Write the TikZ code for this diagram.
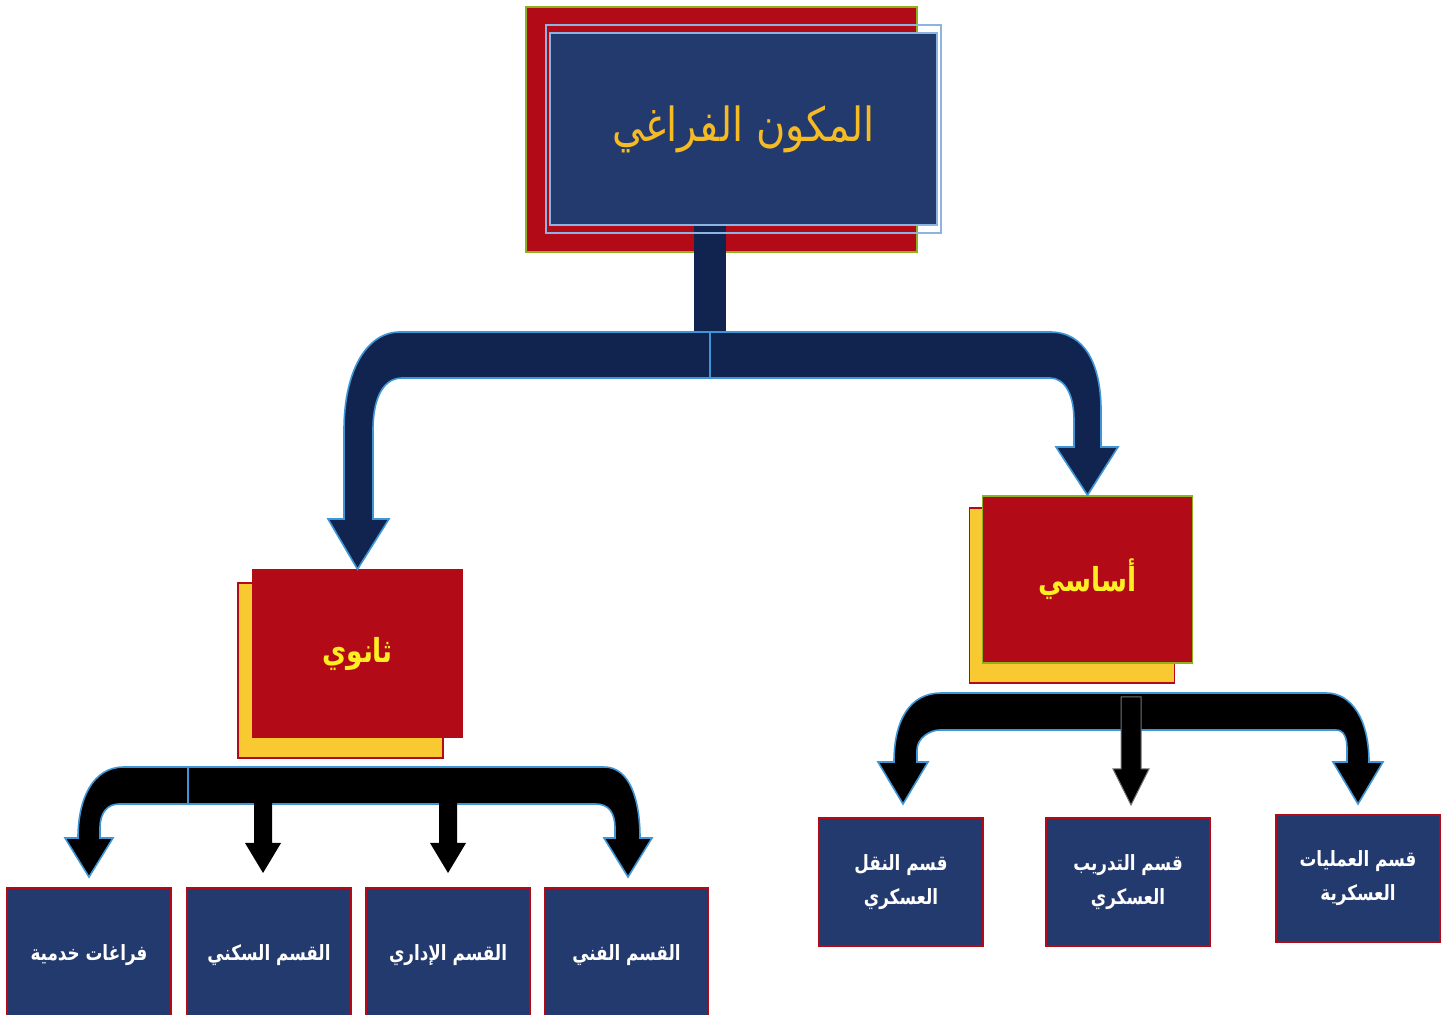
\documentclass[tikz,border=0pt]{standalone}
\usepackage{fontspec}
\newfontfamily\arabicfont[Script=Arabic, FakeStretch=0.8]{DejaVu Sans}
\newfontfamily\titlefont[Script=Arabic, FakeStretch=0.85]{DejaVu Sans}
\TeXXeTstate=1
\definecolor{boxred}{HTML}{B30A18}
\definecolor{boxnavy}{HTML}{233A6E}
\definecolor{arrownavy}{HTML}{10244F}
\definecolor{shadowyellow}{HTML}{F9C932}
\definecolor{titlegold}{HTML}{F6BA22}
\definecolor{labelyellow}{HTML}{FFEE22}
\definecolor{edgegreen}{HTML}{8CB21E}
\definecolor{edgeblue}{HTML}{8DB3E2}
\definecolor{arrowedge}{HTML}{3E96D6}
\begin{document}
\begin{tikzpicture}[x=0.5pt,y=-0.5pt,
    tile/.style={rectangle, inner sep=0pt, line width=0.8pt},
    unit/.style={tile, fill=boxnavy, draw=boxred, minimum width=82pt, text=white, align=center,
      font=\arabicfont\bfseries\fontsize{10.5}{17}\selectfont},
    level/.style={tile, fill=boxred, minimum width=105pt, minimum height=83.5pt, text=labelyellow,
      font=\arabicfont\bfseries\fontsize{16.5}{20}\selectfont},
    shadow/.style={tile, fill=shadowyellow, draw=boxred, minimum width=102.5pt, minimum height=87.5pt},
    band/.style={line width=0.8pt, draw=arrowedge}]
  \clip (0,0) rectangle (1453,1015);

  % top
  \node[tile, fill=boxred, draw=edgegreen, minimum width=195.5pt, minimum height=122.5pt] (back) at (721.5,129.5) {};
  \fill[arrownavy] (694,225) rectangle (726,334);
  \node[tile, draw=edgeblue, minimum width=197.5pt, minimum height=104pt] (frame) at (743.5,129) {};
  \node[tile, fill=boxnavy, draw=edgeblue, minimum width=193.5pt, minimum height=96pt, text=titlegold,
    font=\titlefont\fontsize{23.5}{28}\selectfont] (title) at (743.5,129) {\beginR المكون الفراغي\endR};

  % second level
  \node[shadow] (thanawis) at (340.5,670.5) {};
  \node[level, draw=boxred] (thanawi) at (357.5,653.5) {\beginR ثانوي\endR};
  \node[shadow] (asasis) at (1072,595.5) {};
  \node[level, draw=edgegreen] (asasi) at (1087.5,579.5) {\beginR أساسي\endR};

  \draw[band, fill=arrownavy] (710,332) -- (400,332) .. controls (366,332) and (344,372) .. (344,430)
    -- (344,519) -- (328,519) -- (thanawi.north) -- (389,519) -- (373,519) -- (373,430)
    .. controls (373,395) and (385,378) .. (402,378) -- (710,378) -- cycle;
  \draw[band, fill=arrownavy] (710,332) -- (1050,332) .. controls (1085,332) and (1101,365) .. (1101,410)
    -- (1101,447) -- (1118,447) -- (asasi.north) -- (1056,447) -- (1074,447) -- (1074,420)
    .. controls (1074,395) and (1065,378) .. (1050,378) -- (710,378) -- cycle;

  % bottom left
  \node[unit, minimum height=67pt] (fani) at (626.5,955) {\beginR القسم الفني\endR};
  \node[unit, minimum height=67pt] (idari) at (448,955) {\beginR القسم الإداري\endR};
  \node[unit, minimum height=67pt] (sakani) at (269,955) {\beginR القسم السكني\endR};
  \node[unit, minimum height=67pt] (khadami) at (89,955) {\beginR فراغات خدمية\endR};

  \draw[band, fill=black] (124,767) -- (604,767) .. controls (630,767) and (640,800) .. (640,838)
    -- (652,838) -- (628,877) -- (604,838) -- (615,838) -- (615,828)
    .. controls (615,812) and (608,804) .. (596,804) -- (119,804)
    .. controls (108,804) and (100,812) .. (100,828) -- (100,838) -- (113,838) -- (89,877)
    -- (65,838) -- (78,838) .. controls (78,800) and (92,767) .. (124,767) -- cycle;
  \draw[band] (188,767) -- (188,804);
  \foreach \x in {263,448}
    \fill (\x-9,803) -- (\x+9,803) -- (\x+9,843) -- (\x+18,843) -- (\x,873) -- (\x-18,843) -- (\x-9,843) -- cycle;

  % bottom right
  \node[unit, minimum height=64pt] (naql) at (901,882) {\beginR قسم النقل\endR\\\beginR العسكري\endR};
  \node[unit, minimum height=64pt] (tadrib) at (1128,882) {\beginR قسم التدريب\endR\\\beginR العسكري\endR};
  \node[unit, minimum height=63.5pt] (amaliyat) at (1358,878.5) {\beginR قسم العمليات\endR\\\beginR العسكرية\endR};

  \draw[band, fill=black] (941,693) -- (1326,693) .. controls (1352,693) and (1369,720) .. (1369,762)
    -- (1383,762) -- (1358,804) -- (1333,762) -- (1347,762) -- (1347,748)
    .. controls (1347,738) and (1344,730) .. (1336,730) -- (940,730)
    .. controls (930,730) and (917,738) .. (917,750) -- (917,762) -- (928,762) -- (903,804)
    -- (878,762) -- (894,762) .. controls (894,720) and (910,693) .. (941,693) -- cycle;
  \draw[draw=black!55, fill=black, line width=0.5pt] (1121,697) -- (1141,697) -- (1141,769) -- (1149,769)
    -- (1131,805) -- (1113,769) -- (1121,769) -- cycle;
\end{tikzpicture}
\end{document}
